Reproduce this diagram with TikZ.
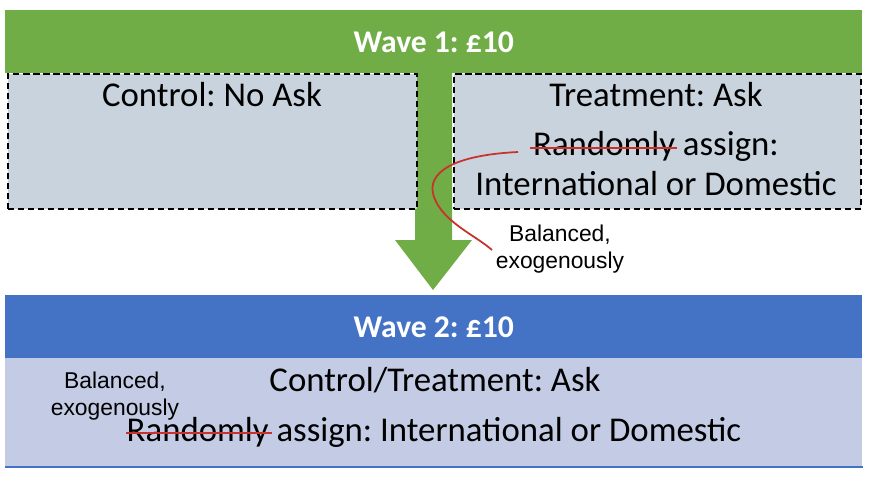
\documentclass[tikz,border=0pt]{standalone}
\usepackage{fontspec}
\setmainfont{Carlito}
\newfontfamily\notefont{Liberation Sans}
\usetikzlibrary{positioning}
\definecolor{wavegreen}{HTML}{70AD47}
\definecolor{waveblue}{HTML}{4472C4}
\definecolor{boxgray}{HTML}{C9D3DD}
\definecolor{panelblue}{HTML}{C4CCE5}
\definecolor{strikered}{HTML}{C8322A}
\frenchspacing

\begin{document}
\begin{tikzpicture}[x=0.02cm,y=-0.02cm,
  bar/.style={inner sep=0pt,anchor=north west,minimum width=17.14cm,minimum height=1.26cm,
    text=white,font=\fontsize{18}{21}\selectfont\bfseries},
  groupbox/.style={draw=black,fill=boxgray,line width=1.2pt,dash pattern=on 3.5pt off 2.2pt,
    inner sep=0pt,anchor=north west,minimum height=2.7cm},
  bodytext/.style={inner sep=0pt,font=\fontsize{19.8}{23}\selectfont},
  notetext/.style={inner sep=0pt,align=center,font=\notefont\fontsize{13}{15.5}\selectfont},
  strike/.style={strikered,line width=1.3pt}]

\useasboundingbox (0,0) rectangle (871,491);

% wave 1
\node[bar,fill=wavegreen] (wave1) at (5,10) {Wave 1: £10};

% arrow between the waves
\fill[wavegreen] (415,73) -- (452,73) -- (452,240) -- (472,240) -- (433,290) -- (395,240) -- (415,240) -- cycle;

\node[groupbox,minimum width=8.18cm] (control) at (7,73) {};
\node[groupbox,minimum width=8.14cm] (treat) at (453,73) {};

\node[bodytext] (controlask) at (212,95) {Control: No Ask};
\node[bodytext] (treatask) at (656,95) {Treatment: Ask};
\node[bodytext] (assign) at (656,146) {Randomly assign:};
\node[bodytext] (intdom) at (656,184) {International or Domestic};
\node[notetext] (note1) at (560,249) {Balanced,\\exogenously};

% wave 2
\node[bar,fill=waveblue] (wave2) at (5,295) {Wave 2: £10};
\node[inner sep=0pt,anchor=north west,fill=panelblue,minimum width=17.14cm,minimum height=2.16cm] (panel) at (5,358) {};
\draw[waveblue,line width=1pt] (panel.south west) -- (panel.south east);

\node[bodytext] (bothask) at (435,380) {Control/Treatment: Ask};
\node[bodytext] (assign2) at (434,432) {Randomly assign: International or Domestic};
\node[notetext] (note2) at (115,396) {Balanced,\\exogenously};

% corrections
\draw[strike] (530,148) -- (677,148);
\draw[strike] (126,433) -- (272,433);
\draw[strikered,line width=1pt] (518,152) .. controls (455,155) and (425,172) .. (434,197)
  .. controls (443,222) and (475,235) .. (492,250);

\end{tikzpicture}
\end{document}
